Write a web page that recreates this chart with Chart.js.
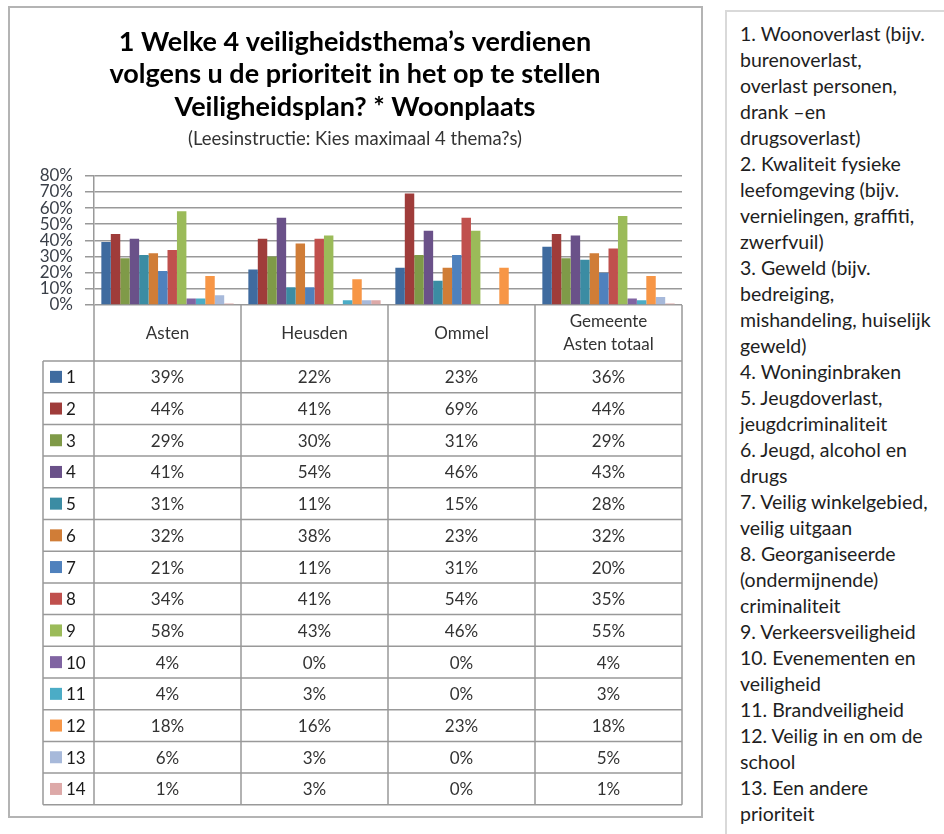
<!DOCTYPE html>
<html lang="nl">
<head>
<meta charset="UTF-8">
<title>Veiligheidsthema's per woonplaats</title>
<style>
  html, body { margin: 0; padding: 0; background: #ffffff; }
  body { width: 944px; height: 834px; position: relative; overflow: hidden; font-family: Lato, "Open Sans", sans-serif; }
  .frame {
    position: absolute; left: 8px; top: 6px; width: 695px; height: 812px;
    box-sizing: border-box; border: 2px solid #b4b4b4;
  }
  #wrap { position: absolute; left: 0; top: 0; width: 944px; height: 834px; }
  .legenda {
    position: absolute; left: 725px; top: 10px; right: 0; bottom: 0;
    border-left: 2px solid #d9d9d9; border-top: 2px solid #d9d9d9;
    padding: 9px 0 0 13px; font-size: 19.5px; line-height: 26px; color: #1e1e1e;
    white-space: nowrap; background: #fff;
  }
</style>
</head>
<body>
<div class="frame"></div>
<div id="wrap"><canvas id="grafiek" width="944" height="834"></canvas></div>
<div class="legenda">
1. Woonoverlast (bijv.<br>burenoverlast,<br>overlast personen,<br>drank –en<br>drugsoverlast)<br>
2. Kwaliteit fysieke<br>leefomgeving (bijv.<br>vernielingen, graffiti,<br>zwerfvuil)<br>
3. Geweld (bijv.<br>bedreiging,<br>mishandeling, huiselijk<br>geweld)<br>
4. Woninginbraken<br>
5. Jeugdoverlast,<br>jeugdcriminaliteit<br>
6. Jeugd, alcohol en<br>drugs<br>
7. Veilig winkelgebied,<br>veilig uitgaan<br>
8. Georganiseerde<br>(ondermijnende)<br>criminaliteit<br>
9. Verkeersveiligheid<br>
10. Evenementen en<br>veiligheid<br>
11. Brandveiligheid<br>
12. Veilig in en om de<br>school<br>
13. Een andere<br>prioriteit
</div>

<script src="https://cdn.jsdelivr.net/npm/chart.js"></script>
<script>
// woonplaatsen (kolommen van de tabel)
var woonplaatsen = ['Asten', 'Heusden', 'Ommel', ['Gemeente', 'Asten totaal']];
// thema's 1 t/m 14 (rijen van de tabel)
var themas = ['1', '2', '3', '4', '5', '6', '7', '8', '9', '10', '11', '12', '13', '14'];
// percentages per woonplaats, in de volgorde van de thema's
var asten   = [39, 44, 29, 41, 31, 32, 21, 34, 58, 4, 4, 18, 6, 1];
var heusden = [22, 41, 30, 54, 11, 38, 11, 41, 43, 0, 3, 16, 3, 3];
var ommel   = [23, 69, 31, 46, 15, 23, 31, 54, 46, 0, 0, 23, 0, 0];
var totaal  = [36, 44, 29, 43, 28, 32, 20, 35, 55, 4, 3, 18, 5, 1];
// as-labels
var yMax = 80;
var yStap = 10;

var kleuren = ['#3f6b9f', '#9f3c3a', '#7f9a48', '#6a5189', '#3b8ca3', '#d07d37', '#4f81bd',
               '#c0504d', '#9bbb59', '#8064a2', '#4bacc6', '#f79646', '#a7b9da', '#dda9a8'];
var lijnKleur = '#999999';
var tekstKleur = '#333333';
var lettertype = 'Lato, "Open Sans", sans-serif';

var datasets = themas.map(function (t, i) {
    return {
        label: t,
        data: [asten[i], heusden[i], ommel[i], totaal[i]],
        backgroundColor: kleuren[i],
        borderWidth: 0
    };
});

// tabel onder de grafiek: rijen per thema, kolommen per woonplaats
var rijHoogte = 31.7;
var kopHoogte = 56;
var tabelLinks = 43;

var tabelPlugin = {
    id: 'dataTabel',
    afterDraw: function (chart) {
        var ctx = chart.ctx;
        var ca = chart.chartArea;
        var x = chart.scales.x;
        var n = chart.data.labels.length;
        var kolom = ca.width / n;
        var top = ca.bottom + kopHoogte;
        var onder = top + rijHoogte * chart.data.datasets.length;

        ctx.save();
        ctx.strokeStyle = lijnKleur;
        ctx.lineWidth = 1.5;
        ctx.beginPath();
        // verticale lijnen
        for (var i = 0; i <= n; i++) {
            var xp = ca.left + i * kolom;
            ctx.moveTo(xp, ca.bottom);
            ctx.lineTo(xp, onder);
        }
        ctx.moveTo(tabelLinks, top);
        ctx.lineTo(tabelLinks, onder);
        // horizontale lijnen
        for (var r = 0; r <= chart.data.datasets.length; r++) {
            var yp = top + r * rijHoogte;
            ctx.moveTo(tabelLinks, yp);
            ctx.lineTo(ca.right, yp);
        }
        ctx.stroke();

        ctx.font = '17px ' + lettertype;
        ctx.textBaseline = 'middle';
        chart.data.datasets.forEach(function (ds, di) {
            var yc = top + (di + 0.5) * rijHoogte;
            ctx.fillStyle = ds.backgroundColor;
            ctx.fillRect(tabelLinks + 7, yc - 6, 12, 12);
            ctx.fillStyle = '#1a1a1a';
            ctx.textAlign = 'left';
            ctx.fillText(ds.label, tabelLinks + 23, yc + 1);
            ctx.fillStyle = tekstKleur;
            ctx.textAlign = 'center';
            ds.data.forEach(function (v, ci) {
                ctx.fillText(v + '%', x.getPixelForValue(ci), yc + 1);
            });
        });
        ctx.restore();
    }
};

var grafiek = new Chart(document.getElementById('grafiek'), {
    type: 'bar',
    data: { labels: woonplaatsen, datasets: datasets },
    plugins: [tabelPlugin],
    options: {
        responsive: false,
        animation: false,
        layout: { padding: { left: 28, right: 262, top: 0, bottom: 834 - 361 } },
        datasets: { bar: { categoryPercentage: 0.9, barPercentage: 1 } },
        plugins: {
            legend: { display: false },
            tooltip: { enabled: false },
            title: {
                display: true,
                text: ['1 Welke 4 veiligheidsthema\u2019s verdienen',
                       'volgens u de prioriteit in het op te stellen',
                       'Veiligheidsplan? * Woonplaats'],
                color: '#000000',
                font: { family: lettertype, size: 27, weight: 'bold', lineHeight: 1.2 },
                padding: { top: 26, bottom: 0 }
            },
            subtitle: {
                display: true,
                text: '(Leesinstructie: Kies maximaal 4 thema?s)',
                color: '#333333',
                font: { family: lettertype, size: 18.5, lineHeight: 1 },
                padding: { top: 7, bottom: 27 }
            }
        },
        scales: {
            x: {
                grid: { display: false, drawTicks: false },
                border: { display: false },
                afterFit: function (s) { s.height = kopHoogte; },
                ticks: {
                    color: tekstKleur,
                    font: { family: lettertype, size: 17, lineHeight: 1.35 },
                    padding: 17,
                    crossAlign: 'center',
                    maxRotation: 0,
                    autoSkip: false
                }
            },
            y: {
                min: 0,
                max: yMax,
                afterFit: function (s) { s.width = 94 - 28; },
                grid: { color: lijnKleur, lineWidth: 1.5, tickLength: 9 },
                border: { display: true, color: lijnKleur, width: 1.5 },
                ticks: {
                    stepSize: yStap,
                    autoSkip: false,
                    padding: 12,
                    color: '#3a3f48',
                    font: { family: lettertype, size: 17, lineHeight: 1 },
                    callback: function (v) { return v + '%'; }
                }
            }
        }
    }
});
</script>
</body>
</html>
